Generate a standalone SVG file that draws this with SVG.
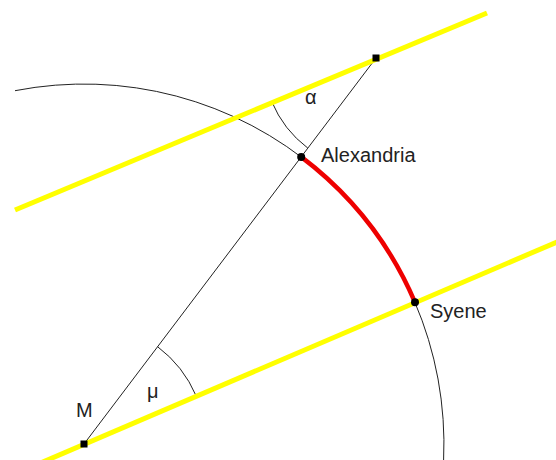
<svg xmlns="http://www.w3.org/2000/svg" width="556" height="460" viewBox="0 0 556 460">
<style>
.thin{fill:none;stroke:#222;stroke-width:1}
.sun{fill:none;stroke:#ffff00;stroke-width:5}
.arc{fill:none;stroke:#ee0000;stroke-width:4.5}
.lbl{font-family:"Liberation Sans",Arial,sans-serif;font-size:20px;fill:#222}
</style>
<rect width="556" height="460" fill="#fff"/>
<g id="connectors">
<path id="earth" class="thin" d="M15,90.7 A360,360 0 0 1 443.6,460"/>
<line id="radius" class="thin" x1="84" y1="444" x2="376" y2="58"/>
<path id="alpha-arc" class="thin" d="M271.7,101.5 A113,113 0 0 0 307.8,148.1"/>
<path id="mu-arc" class="thin" d="M157.6,346.7 A122,122 0 0 1 196.2,396"/>
<line id="ray-upper" class="sun" x1="15" y1="210" x2="487" y2="13"/>
<line id="ray-lower" class="sun" x1="30" y1="467.5" x2="560" y2="240.7"/>
<path id="distance" class="arc" d="M301.2,156.9 A360,360 0 0 1 415,302.3"/>
</g>
<g id="alexandria">
<circle cx="301.2" cy="156.9" r="4" fill="#000"/>
<text class="lbl" x="321" y="162">Alexandria</text>
</g>
<g id="syene">
<circle cx="415" cy="302.3" r="4" fill="#000"/>
<text class="lbl" x="430" y="318">Syene</text>
</g>
<g id="M">
<rect x="80.5" y="440.5" width="7" height="7" fill="#000"/>
<text class="lbl" x="76" y="417">M</text>
</g>
<g id="top-point">
<rect x="372.5" y="54.5" width="7" height="7" fill="#000"/>
</g>
<g id="alpha">
<text class="lbl" x="305" y="104">α</text>
</g>
<g id="mu">
<text class="lbl" x="147" y="398">μ</text>
</g>
</svg>
